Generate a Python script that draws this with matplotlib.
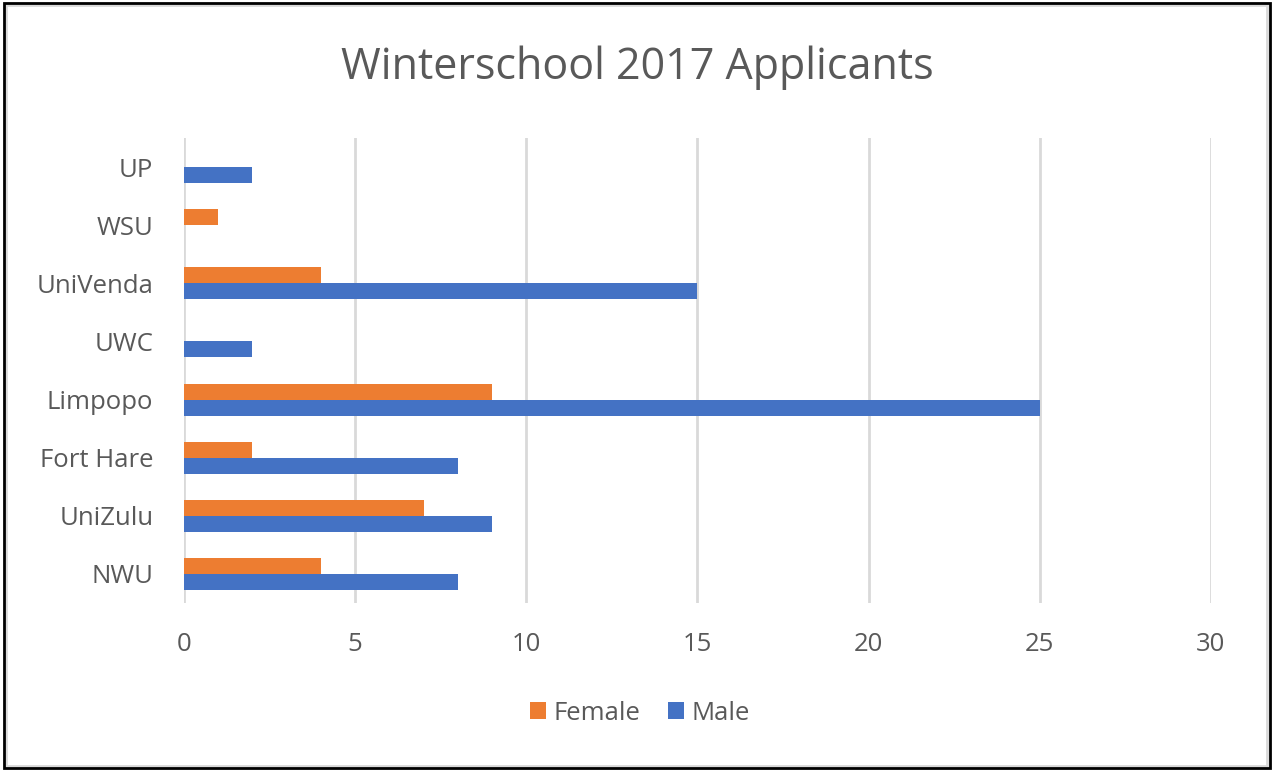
import matplotlib
matplotlib.use("Agg")
import matplotlib.pyplot as plt
import numpy as np
from matplotlib.patches import Rectangle

categories = ["NWU", "UniZulu", "Fort Hare", "Limpopo", "UWC", "UniVenda", "WSU", "UP"]
female = [4, 7, 2, 9, 0, 4, 1, 0]
male = [8, 9, 8, 25, 2, 15, 0, 2]
xticks = [0, 5, 10, 15, 20, 25, 30]

plt.rcParams['font.family'] = ['Open Sans', 'DejaVu Sans']
gray = '#595959'

fig = plt.figure(figsize=(12.75, 7.71), dpi=100)
ax = fig.add_axes([0.1443, 0.218, 0.8055, 0.603])

y = np.arange(len(categories))
h = 0.275
ax.barh(y + h / 2, female, height=h, color='#ED7D31', label='Female', zorder=3)
ax.barh(y - h / 2, male, height=h, color='#4472C4', label='Male', zorder=3)

ax.set_xlim(0, 30)
ax.set_ylim(-0.5, len(categories) - 0.5)
ax.set_xticks(xticks)
ax.set_xticklabels([str(t) for t in xticks])
ax.set_yticks(y)
ax.set_yticklabels(categories)
ax.tick_params(axis='both', length=0, labelsize=18.5, colors=gray)
ax.tick_params(axis='x', pad=21)
ax.tick_params(axis='y', pad=22)
ax.xaxis.grid(True, color='#D9D9D9', linewidth=2, zorder=0)
for s in ax.spines.values():
    s.set_visible(False)

fig.text(0.5, 0.912, "Winterschool 2017 Applicants", ha='center', va='center',
         fontsize=31, color=gray)

leg = fig.legend(loc='center', bbox_to_anchor=(0.502, 0.075), ncol=2, frameon=False,
                 fontsize=18.5, handlelength=0.6, handleheight=0.6, handletextpad=0.3,
                 columnspacing=1.1)
for t in leg.get_texts():
    t.set_color(gray)

fig.patches.append(Rectangle((0.005, 0.007), 0.989, 0.986, transform=fig.transFigure,
                             fill=False, edgecolor='#D9D9D9', linewidth=2))
fig.patches.append(Rectangle((0.0035, 0.004), 0.9925, 0.992, transform=fig.transFigure,
                             fill=False, edgecolor='black', linewidth=2))

fig.savefig("out.png", dpi=100)
